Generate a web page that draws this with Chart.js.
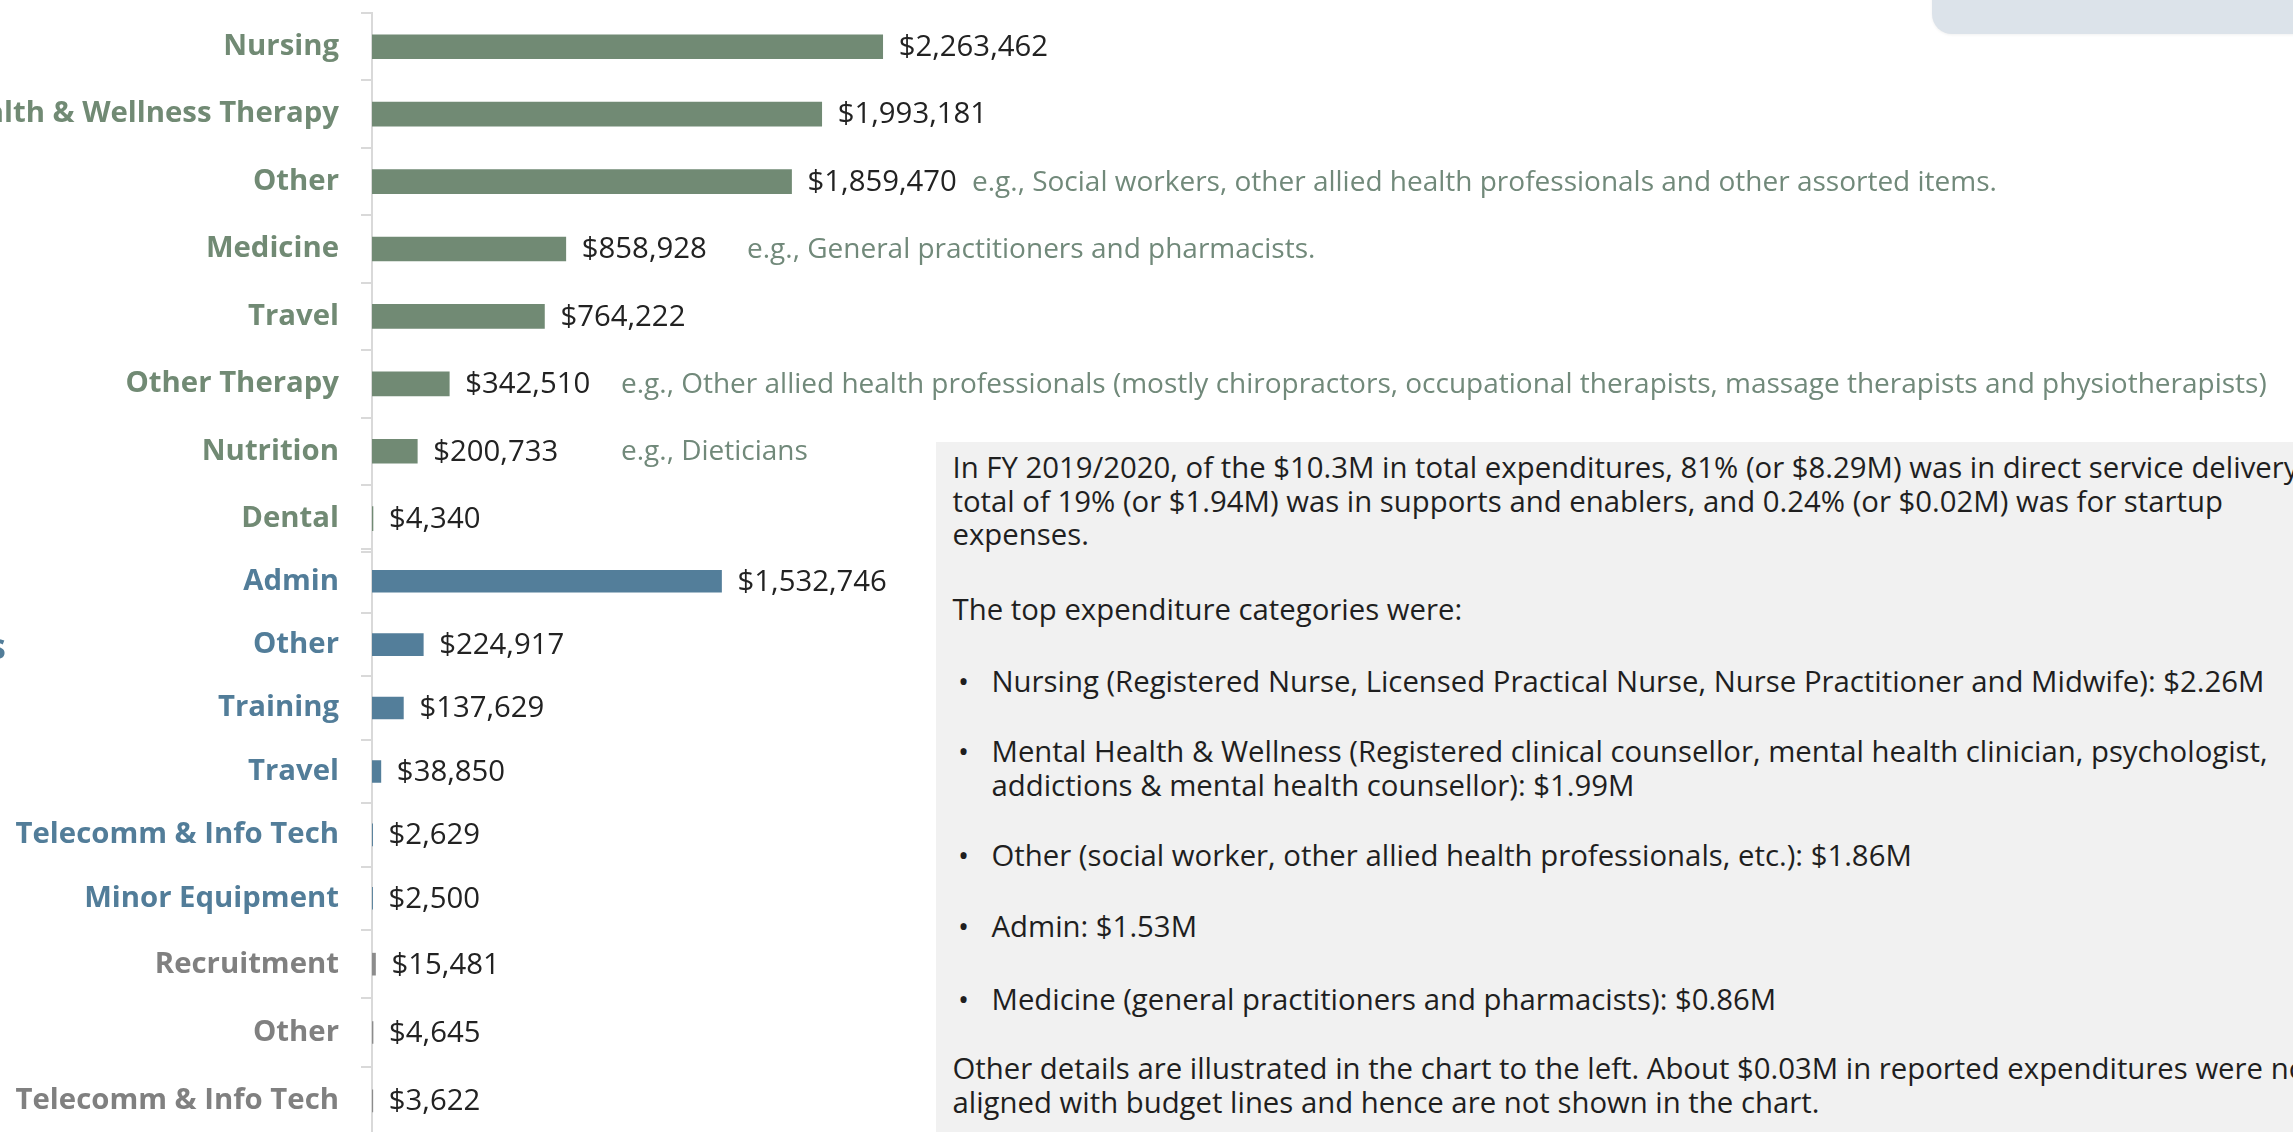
<!DOCTYPE html>
<html>
<head>
<meta charset="utf-8">
<script src="https://cdn.jsdelivr.net/npm/chart.js@4.4.1/dist/chart.umd.min.js"></script>
<style>
  html, body { margin:0; padding:0; width:2293px; height:1132px; overflow:hidden; background:#ffffff; font-family:'Open Sans', sans-serif; }
  .chart { position:absolute; left:0; width:2293px; }
  #tab { position:absolute; left:1932px; top:-40px; width:420px; height:74px; border-radius:20px; background:#dce3ea; box-shadow:0 1px 3px rgba(0,0,0,0.06); }
  #groupLabel { position:absolute; left:-700px; width:706px; top:624px; text-align:right; font-weight:700; font-size:36px; line-height:44px; color:#527d99; white-space:nowrap; }
  #panel { position:absolute; left:936px; top:442px; right:0; bottom:0; background:#f1f1f1; overflow:hidden; }
  #panel p { position:absolute; margin:0; white-space:nowrap; font-size:29.33px; line-height:33.6px; color:#1f1f1f; }
  #panel p.txt { left:16.5px; }
  #panel p.bul { left:55.5px; }
  #panel p.bul::before { content:'•'; position:absolute; left:-33.5px; }
</style>
</head>
<body>
<div id="tab"></div>
<canvas id="c1" class="chart" width="2293" height="560" style="top:0px;height:560px"></canvas>
<canvas id="c2" class="chart" width="2293" height="400" style="top:540px;height:400px"></canvas>
<canvas id="c3" class="chart" width="2293" height="230" style="top:920px;height:230px"></canvas>
<div id="groupLabel">Supports &amp; Enablers</div>

<div id="panel">
  <p class="txt" style="top:9px">In FY 2019/2020, of the $10.3M in total expenditures, 81% (or $8.29M) was in direct service delivery<br>total of 19% (or $1.94M) was in supports and enablers, and 0.24% (or $0.02M) was for startup<br>expenses.</p>
  <p class="txt" style="top:151px">The top expenditure categories were:</p>
  <p class="bul" style="top:223px">Nursing (Registered Nurse, Licensed Practical Nurse, Nurse Practitioner and Midwife): $2.26M</p>
  <p class="bul" style="top:293px">Mental Health &amp; Wellness (Registered clinical counsellor, mental health clinician, psychologist,<br>addictions &amp; mental health counsellor): $1.99M</p>
  <p class="bul" style="top:397px">Other (social worker, other allied health professionals, etc.): $1.86M</p>
  <p class="bul" style="top:468px">Admin: $1.53M</p>
  <p class="bul" style="top:541px">Medicine (general practitioners and pharmacists): $0.86M</p>
  <p class="txt" style="top:610px">Other details are illustrated in the chart to the left. About $0.03M in reported expenditures were not<br>aligned with budget lines and hence are not shown in the chart.</p>
</div>

<script>
// Direct service delivery
const directLabels = ['Nursing', 'Mental Health & Wellness Therapy', 'Other', 'Medicine', 'Travel', 'Other Therapy', 'Nutrition', 'Dental'];
const directValues = [2263462, 1993181, 1859470, 858928, 764222, 342510, 200733, 4340];
const directNotes = ['', '', 'e.g., Social workers, other allied health professionals and other assorted items.',
  'e.g., General practitioners and pharmacists.', '',
  'e.g., Other allied health professionals (mostly chiropractors, occupational therapists, massage therapists and physiotherapists)',
  'e.g., Dieticians', ''];

// Supports and enablers
const supportLabels = ['Admin', 'Other', 'Training', 'Travel', 'Telecomm & Info Tech', 'Minor Equipment'];
const supportValues = [1532746, 224917, 137629, 38850, 2629, 2500];

// Startup
const startupLabels = ['Recruitment', 'Other', 'Telecomm & Info Tech'];
const startupValues = [15481, 4645, 3622];

const AXIS_X = 372;
const FONT = 'Open Sans';

// Dollar value after each bar, plus optional grey-green notes at fixed x positions
const valueLabels = {
  id: 'valueLabels',
  afterDatasetsDraw(chart, args, opts) {
    const ctx = chart.ctx;
    const meta = chart.getDatasetMeta(0);
    const ds = chart.data.datasets[0];
    ctx.save();
    ctx.textBaseline = 'middle';
    ctx.textAlign = 'left';
    meta.data.forEach((bar, i) => {
      ctx.font = '29.33px "' + FONT + '"';
      ctx.fillStyle = '#222222';
      ctx.fillText('$' + ds.data[i].toLocaleString('en-US'), bar.x + 16, bar.y + 1);
      const note = opts.notes ? opts.notes[i] : '';
      if (note) {
        ctx.font = '28px "' + FONT + '"';
        ctx.fillStyle = '#71897a';
        ctx.fillText(note, opts.noteX[i], bar.y + 1);
      }
    });
    ctx.restore();
  }
};

function makeChart(id, labels, values, opt) {
  return new Chart(document.getElementById(id), {
    type: 'bar',
    data: {
      labels: labels,
      datasets: [{ data: values, backgroundColor: opt.bar, barThickness: opt.thickness, borderWidth: 0 }]
    },
    options: {
      indexAxis: 'y',
      responsive: false,
      animation: false,
      layout: { padding: { top: opt.padTop, bottom: opt.padBottom, left: 0, right: 0 } },
      plugins: {
        legend: { display: false },
        tooltip: { enabled: false },
        valueLabels: { notes: opt.notes, noteX: opt.noteX }
      },
      scales: {
        x: { display: false, min: 0, max: opt.xMax },
        y: {
          afterFit(scale) {
            scale.width = AXIS_X;
            scale.paddingTop = 0;
            scale.paddingBottom = 0;
          },
          grid: { display: true, drawOnChartArea: false, drawTicks: true, tickLength: 11, color: '#d9d9d9', lineWidth: 2, offset: true },
          border: { display: true, color: '#d9d9d9', width: 2 },
          ticks: { color: opt.text, autoSkip: false, padding: 22, font: { family: FONT, size: 29.33, weight: 'bold' } }
        }
      }
    },
    plugins: [valueLabels]
  });
}

function draw() {
  makeChart('c1', directLabels, directValues, {
    bar: '#718a74', text: '#718a74', thickness: 24, padTop: 13, padBottom: 7.6, xMax: 8514000,
    notes: directNotes, noteX: { 2: 972, 3: 747, 5: 621, 6: 621 }
  });
  makeChart('c2', supportLabels, supportValues, {
    bar: '#537e9a', text: '#527d99', thickness: 22, padTop: 9.5, padBottom: 10, xMax: 8424000
  });
  makeChart('c3', startupLabels, startupValues, {
    bar: '#8c8c8c', text: '#808080', thickness: 22, padTop: 10, padBottom: 15, xMax: 8514000
  });
}

if (document.fonts && document.fonts.load) {
  Promise.all([
    document.fonts.load('28px "Open Sans"'),
    document.fonts.load('bold 28px "Open Sans"')
  ]).then(draw, draw);
} else {
  draw();
}
</script>
</body>
</html>
